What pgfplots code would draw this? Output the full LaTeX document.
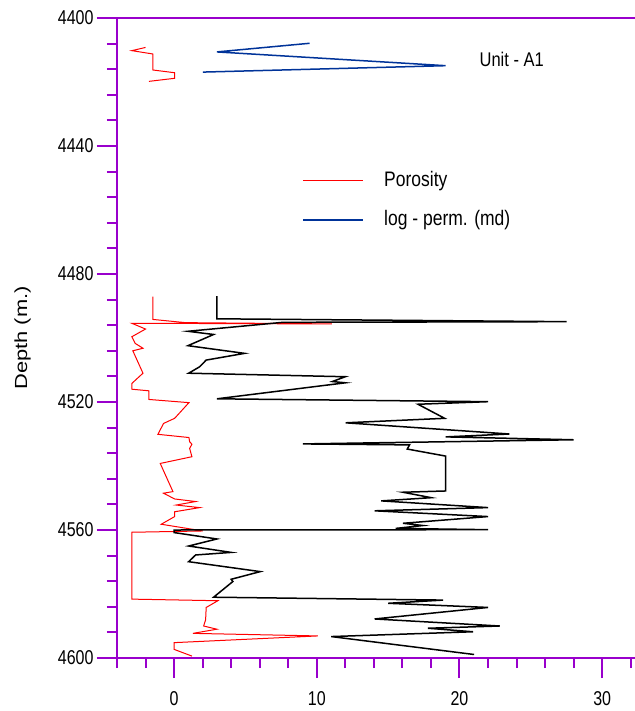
\documentclass[border=0pt]{standalone}
\usepackage{pgfplots}
\pgfplotsset{compat=1.18}
\usepackage{fontspec}
\setmainfont{Liberation Sans}
\definecolor{axpurple}{RGB}{153,0,204}
\definecolor{permblue}{RGB}{0,51,153}
\definecolor{porored}{RGB}{255,0,0}

\begin{document}
\begin{tikzpicture}
\useasboundingbox (-117bp,-53bp) rectangle (518bp,658bp);
\begin{axis}[
    at={(0,0)}, anchor=south west,
    scale only axis,
    width=518bp, height=640bp,
    xmin=-4, xmax=32.3,
    ymin=4400, ymax=4600,
    y dir=reverse,
    axis x line*=bottom, axis y line*=left,
    axis line style={axpurple, line width=2bp},
    every tick/.append style={axpurple, line width=2bp},
    tick align=outside,
    major tick length=20bp, minor tick length=10bp,
    xtick={0,10,20,30}, minor xtick={-4,-2,...,32},
    ytick={4400,4440,...,4600}, minor ytick={4408,4416,...,4592},
    /pgf/number format/1000 sep={},
    ticklabel style={font=\fontsize{16bp}{18bp}\selectfont, text=black},
    xticklabel={\scalebox{1}[1.25]{\pgfmathprintnumber[assume math mode=true]{\tick}}},
    yticklabel={\scalebox{1}[1.25]{\pgfmathprintnumber[assume math mode=true]{\tick}}},
    xticklabel style={yshift=-10bp},
    ylabel={\scalebox{1.25}[1]{Depth (m.)}},
    ylabel style={font=\fontsize{17.5bp}{20bp}\selectfont, at={(axis description cs:-0.1824,0.5)}, anchor=center},
    legend style={at={(axis cs:9,4447.7)}, anchor=north west, draw=none, fill=none,
        inner sep=0pt, row sep=23bp, column sep=20bp,
        font=\fontsize{17.5bp}{20bp}\selectfont, nodes={inner sep=0pt}},
    legend cell align=left,
    legend image code/.code={\draw[#1] (0bp,-1bp) -- (60bp,-1bp);},
    clip=false,
]
% porosity, upper interval
\addplot[color=porored, line width=1bp] coordinates {
    (-2.0,4409.2) (-2.96,4410.2) (-1.48,4411.25) (-1.48,4416.25)
    (0.03,4417.1) (0.03,4418.85) (-1.76,4419.8)
};
\addlegendentry{\scalebox{1}[1.2]{Porosity}}
% log-perm, upper interval
\addplot[color=permblue, line width=1.5bp] coordinates {
    (9.5,4407.9) (3.0,4410.6) (19.03,4414.9) (2.02,4416.9)
};
\addlegendentry{\scalebox{1}[1.2]{log - perm. (md)}}
% porosity, main interval
\addplot[color=porored, line width=1bp, forget plot] coordinates {
    (-1.48,4487.1) (-1.48,4494.2) (0.8,4495.2) (11.06,4495.6) (-2.96,4495.4)
    (-2.0,4497.2) (-2.96,4499.6) (-2.72,4501.7) (-2.18,4503.2) (-2.89,4504.0)
    (-2.18,4511.0) (-2.96,4514.2) (-2.96,4516.0) (-1.77,4516.5) (-1.77,4519.2)
    (1.04,4520.2) (0.04,4525.1) (-0.74,4526.7) (-1.13,4530.1) (1.04,4531.1)
    (1.09,4532.4) (1.25,4533.2) (1.09,4534.5) (1.25,4537.1) (-0.97,4539.2)
    (-0.08,4548.0) (-0.74,4548.5) (0.04,4550.3) (1.51,4551.1) (0.15,4552.2)
    (1.79,4553.0) (0.04,4554.3) (0.04,4555.8) (-0.9,4558.2) (2.02,4560.3)
    (-2.96,4560.7) (-2.96,4581.6) (3.07,4582.1) (2.25,4584.2) (2.21,4588.1)
    (2.07,4590.0) (3.0,4591.0) (1.32,4592.3) (10.08,4593.1) (0.0,4595.2)
    (0.0,4597.3) (1.25,4599.4)
};
% log-perm, main interval
\addplot[color=black, line width=1.5bp, forget plot] coordinates {
    (3.0,4486.9) (3.0,4494.0) (27.5,4494.9) (7.63,4495.1) (0.97,4497.9)
    (2.77,4498.9) (0.97,4502.4) (4.94,4504.8) (2.25,4506.9) (1.79,4509.0)
    (1.02,4511.0) (12.0,4512.1) (11.09,4513.6) (12.0,4514.0) (3.0,4519.0)
    (22.0,4519.9) (17.09,4520.7) (18.96,4525.1) (12.02,4526.5) (23.5,4530.0)
    (19.03,4530.9) (28.0,4531.8) (9.03,4533.1) (16.5,4533.4) (16.34,4534.7)
    (19.03,4536.9) (19.03,4547.8) (16.04,4548.2) (18.02,4549.9) (14.52,4550.9)
    (22.0,4553.0) (14.05,4554.0) (22.0,4555.8) (16.04,4557.9) (17.44,4558.6)
    (15.53,4559.5) (22.0,4559.9) (0.0,4560.0) (0.0,4560.8) (3.0,4562.8)
    (1.02,4565.0) (4.0,4567.0) (1.51,4567.8) (1.02,4569.9) (6.04,4573.0)
    (4.0,4575.4) (4.12,4576.1) (2.77,4581.0) (18.85,4581.9) (15.0,4582.9)
    (22.0,4584.2) (14.05,4587.8) (22.82,4590.0) (17.79,4590.7) (20.95,4591.8)
    (11.01,4593.3) (21.02,4598.9)
};
\draw[axpurple, line width=2bp] (axis cs:-4,4400) -- (axis cs:32.3,4400);
\node[anchor=west, inner sep=0pt, font=\fontsize{16.5bp}{19bp}\selectfont]
    at (axis cs:21.4,4413.0) {\scalebox{1}[1.2]{Unit - A1}};
\end{axis}
\end{tikzpicture}
\end{document}
